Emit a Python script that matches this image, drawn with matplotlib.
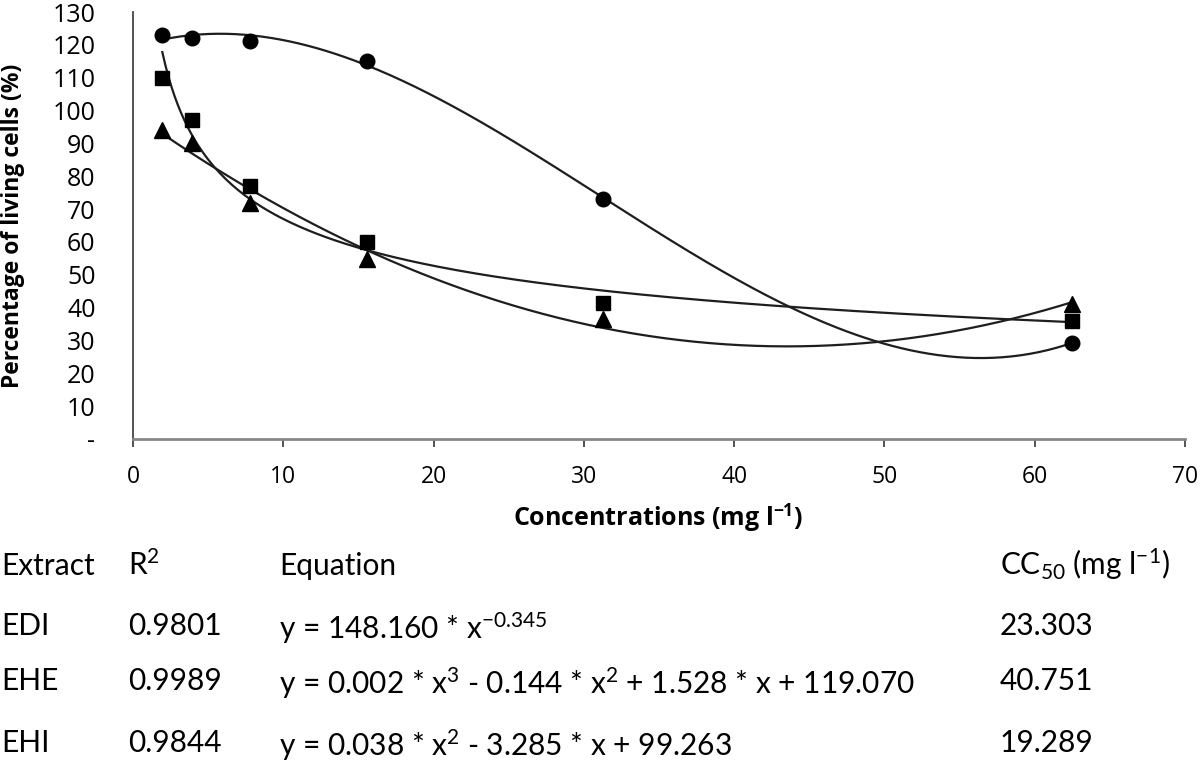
import numpy as np
import matplotlib
matplotlib.use("Agg")
import matplotlib.pyplot as plt

plt.rcParams['font.family'] = ['Open Sans', 'DejaVu Sans']
tab_font = ['Lato', 'DejaVu Sans']
plt.rcParams['mathtext.fontset'] = 'custom'
plt.rcParams['mathtext.rm'] = 'Lato'
plt.rcParams['mathtext.it'] = 'Lato'
plt.rcParams['mathtext.bf'] = 'Open Sans:bold'

# Data
conc = [1.95, 3.9, 7.8, 15.6, 31.25, 62.5]
edi = [110, 97, 77, 60, 41.5, 36]            # squares
ehe = [123, 122, 121.3, 115.2, 73.2, 29.3]   # circles
ehi = [94, 90.2, 72, 54.9, 36.6, 41.2]       # triangles

x_ticks = [0, 10, 20, 30, 40, 50, 60, 70]
y_ticks = list(range(0, 140, 10))
y_ticklabels = ['-'] + [str(v) for v in y_ticks[1:]]

header = ['Extract', 'R$^2$', 'Equation', 'CC$_{50}$ (mg l$^{-1}$)']
extracts = ['EDI', 'EHE', 'EHI']
r2 = ['0.9801', '0.9989', '0.9844']
equations = ['y = 148.160 * x$^{-0.345}$',
             'y = 0.002 * x$^{3}$ - 0.144 * x$^{2}$ + 1.528 * x + 119.070',
             'y = 0.038 * x$^{2}$ - 3.285 * x + 99.263']
cc50 = ['23.303', '40.751', '19.289']

fig = plt.figure(figsize=(12, 7.62), dpi=100)
ax = fig.add_axes([133/1200, 1-439/762, (1185-133)/1200, (439-12)/762])

x = np.array(conc)
xs = np.linspace(x.min(), x.max(), 300)
lc = '#1e1e1e'
# EDI power trend
b, a = np.polyfit(np.log(x), np.log(edi), 1)
ax.plot(xs, np.exp(a) * xs**b, color=lc, lw=1.6)
# EHE cubic
ax.plot(xs, np.polyval(np.polyfit(x, ehe, 3), xs), color=lc, lw=1.6)
# EHI quadratic
ax.plot(xs, np.polyval(np.polyfit(x, ehi, 2), xs), color=lc, lw=1.6)

ax.plot(conc, edi, 's', color='black', ms=10.5, ls='none')
ax.plot(conc, ehe, 'o', color='black', ms=10.5, ls='none')
ax.plot(conc, ehi, '^', color='black', ms=12, ls='none')

ax.set_xlim(0, 70)
ax.set_ylim(0, 130)
ax.set_xticks(x_ticks)
ax.set_xticklabels([str(v) for v in x_ticks], fontsize=16.5)
ax.set_yticks(y_ticks)
ax.set_yticklabels(y_ticklabels, fontsize=18)
for s in ['top', 'right']:
    ax.spines[s].set_visible(False)
ax.spines['left'].set_color('#444444')
ax.spines['left'].set_linewidth(1.3)
ax.spines['bottom'].set_color('#888888')
ax.spines['bottom'].set_linewidth(2)
ax.tick_params(axis='y', length=0, pad=27)
ax.tick_params(axis='x', length=6, width=1.3, color='#444444', pad=13)

fig.text(13/1200, 1-226/762, 'Percentage of living cells (%)', rotation=90,
         fontsize=16.5, fontweight='bold', ha='center', va='center')
fig.text(658/1200, 1-526/762, 'Concentrations (mg l$^{\\mathbf{-1}}$)',
         fontsize=18, fontweight='bold', ha='center', va='baseline')

col_x = [1, 128, 279, 1000]
baselines = [575, 635, 690, 752]
eq_shift = 4
fs = 21.5
for cx, t in zip(col_x, header):
    fig.text(cx/1200, 1-baselines[0]/762, t, fontsize=fs, fontfamily=tab_font,
             va='baseline', ha='left')
for i in range(3):
    yy = 1-baselines[i+1]/762
    fig.text(col_x[0]/1200, yy, extracts[i], fontsize=fs, fontfamily=tab_font, va='baseline')
    fig.text(col_x[1]/1200, yy, r2[i], fontsize=fs, fontfamily=tab_font, va='baseline')
    fig.text(col_x[2]/1200, yy - eq_shift/762, equations[i], fontsize=fs,
             fontfamily=tab_font, va='baseline')
    fig.text(col_x[3]/1200, yy, cc50[i], fontsize=fs, fontfamily=tab_font, va='baseline')

fig.savefig('out.png', dpi=100)
